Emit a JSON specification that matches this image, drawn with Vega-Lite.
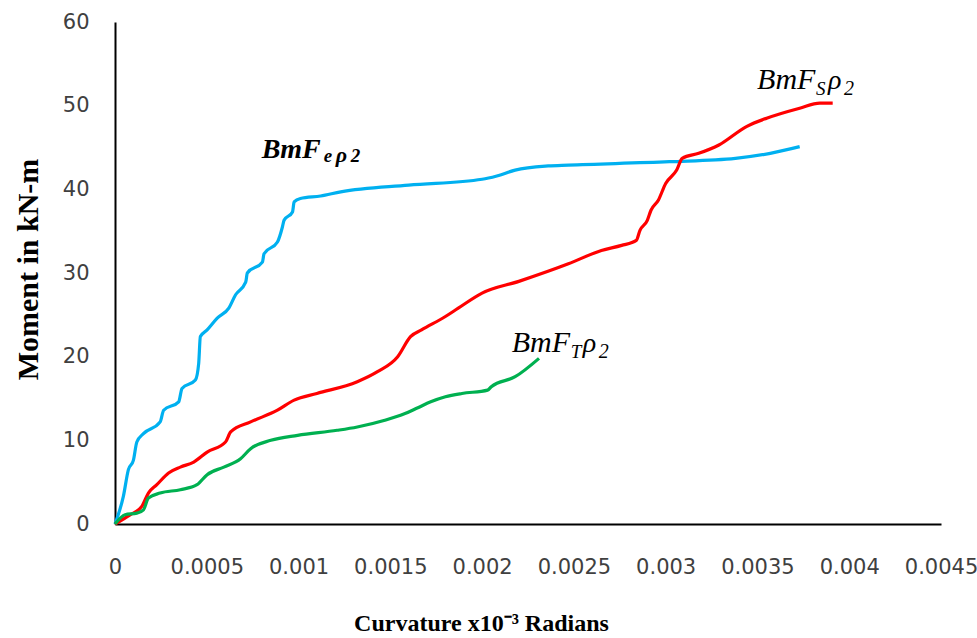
{
  "$schema": "https://vega.github.io/schema/vega-lite/v6.json",
  "width": 826,
  "height": 502,
  "autosize": {"type": "none"},
  "padding": {"left": 115, "top": 22, "right": 36, "bottom": 114},
  "background": "white",
  "config": {
    "view": {"stroke": null},
    "axis": {
      "grid": false,
      "ticks": false,
      "domainColor": "black",
      "domainWidth": 2,
      "labelFont": "DejaVu Sans",
      "labelFontSize": 21,
      "labelColor": "#404040",
      "labelOverlap": false,
      "labelFlush": false,
      "titleFont": "Liberation Serif",
      "titleFontWeight": "bold",
      "titleColor": "black"
    }
  },
  "datasets": {
    "curves": [
      {"series": "BmFeρ2", "curvature": 0, "moment": 0},
      {"series": "BmFeρ2", "curvature": 0.0000455, "moment": 3.3},
      {"series": "BmFeρ2", "curvature": 0.000073, "moment": 6.5},
      {"series": "BmFeρ2", "curvature": 0.0001, "moment": 7.6},
      {"series": "BmFeρ2", "curvature": 0.000119, "moment": 9.8},
      {"series": "BmFeρ2", "curvature": 0.000155, "moment": 10.8},
      {"series": "BmFeρ2", "curvature": 0.000246, "moment": 12.2},
      {"series": "BmFeρ2", "curvature": 0.000265, "moment": 13.6},
      {"series": "BmFeρ2", "curvature": 0.000347, "moment": 14.6},
      {"series": "BmFeρ2", "curvature": 0.000365, "moment": 16.2},
      {"series": "BmFeρ2", "curvature": 0.000438, "moment": 17.2},
      {"series": "BmFeρ2", "curvature": 0.000456, "moment": 19.2},
      {"series": "BmFeρ2", "curvature": 0.000465, "moment": 22.4},
      {"series": "BmFeρ2", "curvature": 0.000502, "moment": 23.2},
      {"series": "BmFeρ2", "curvature": 0.000557, "moment": 24.6},
      {"series": "BmFeρ2", "curvature": 0.00062, "moment": 25.8},
      {"series": "BmFeρ2", "curvature": 0.000657, "moment": 27.4},
      {"series": "BmFeρ2", "curvature": 0.000712, "moment": 28.9},
      {"series": "BmFeρ2", "curvature": 0.000721, "moment": 30.0},
      {"series": "BmFeρ2", "curvature": 0.000803, "moment": 31.3},
      {"series": "BmFeρ2", "curvature": 0.000812, "moment": 32.3},
      {"series": "BmFeρ2", "curvature": 0.000885, "moment": 33.7},
      {"series": "BmFeρ2", "curvature": 0.000912, "moment": 35.5},
      {"series": "BmFeρ2", "curvature": 0.000921, "moment": 36.3},
      {"series": "BmFeρ2", "curvature": 0.000967, "moment": 37.3},
      {"series": "BmFeρ2", "curvature": 0.000976, "moment": 38.5},
      {"series": "BmFeρ2", "curvature": 0.00101, "moment": 38.9},
      {"series": "BmFeρ2", "curvature": 0.00112, "moment": 39.2},
      {"series": "BmFeρ2", "curvature": 0.00123, "moment": 39.7},
      {"series": "BmFeρ2", "curvature": 0.0016, "moment": 40.5},
      {"series": "BmFeρ2", "curvature": 0.002, "moment": 41.2},
      {"series": "BmFeρ2", "curvature": 0.00208, "moment": 41.6},
      {"series": "BmFeρ2", "curvature": 0.00218, "moment": 42.3},
      {"series": "BmFeρ2", "curvature": 0.00236, "moment": 42.8},
      {"series": "BmFeρ2", "curvature": 0.00247, "moment": 42.9},
      {"series": "BmFeρ2", "curvature": 0.00302, "moment": 43.3},
      {"series": "BmFeρ2", "curvature": 0.00338, "moment": 43.7},
      {"series": "BmFeρ2", "curvature": 0.00357, "moment": 44.3},
      {"series": "BmFeρ2", "curvature": 0.00373, "moment": 45.1},

      {"series": "BmFSρ2", "curvature": 0, "moment": 0},
      {"series": "BmFSρ2", "curvature": 0.000082, "moment": 1.1},
      {"series": "BmFSρ2", "curvature": 0.000146, "moment": 2.1},
      {"series": "BmFSρ2", "curvature": 0.000182, "moment": 3.7},
      {"series": "BmFSρ2", "curvature": 0.000228, "moment": 4.7},
      {"series": "BmFSρ2", "curvature": 0.000292, "moment": 6.1},
      {"series": "BmFSρ2", "curvature": 0.000356, "moment": 6.8},
      {"series": "BmFSρ2", "curvature": 0.000429, "moment": 7.4},
      {"series": "BmFSρ2", "curvature": 0.000502, "moment": 8.6},
      {"series": "BmFSρ2", "curvature": 0.000602, "moment": 9.8},
      {"series": "BmFSρ2", "curvature": 0.00063, "moment": 11.0},
      {"series": "BmFSρ2", "curvature": 0.000739, "moment": 12.2},
      {"series": "BmFSρ2", "curvature": 0.000885, "moment": 13.6},
      {"series": "BmFSρ2", "curvature": 0.000976, "moment": 14.8},
      {"series": "BmFSρ2", "curvature": 0.0011, "moment": 15.6},
      {"series": "BmFSρ2", "curvature": 0.00132, "moment": 17.0},
      {"series": "BmFSρ2", "curvature": 0.00143, "moment": 18.2},
      {"series": "BmFSρ2", "curvature": 0.00154, "moment": 20.0},
      {"series": "BmFSρ2", "curvature": 0.00161, "moment": 22.4},
      {"series": "BmFSρ2", "curvature": 0.00167, "moment": 23.2},
      {"series": "BmFSρ2", "curvature": 0.0018, "moment": 24.8},
      {"series": "BmFSρ2", "curvature": 0.00187, "moment": 25.8},
      {"series": "BmFSρ2", "curvature": 0.002, "moment": 27.6},
      {"series": "BmFSρ2", "curvature": 0.0022, "moment": 29.0},
      {"series": "BmFSρ2", "curvature": 0.00247, "moment": 31.1},
      {"series": "BmFSρ2", "curvature": 0.00265, "moment": 32.7},
      {"series": "BmFSρ2", "curvature": 0.00276, "moment": 33.3},
      {"series": "BmFSρ2", "curvature": 0.00284, "moment": 33.9},
      {"series": "BmFSρ2", "curvature": 0.00286, "moment": 35.1},
      {"series": "BmFSρ2", "curvature": 0.0029, "moment": 36.3},
      {"series": "BmFSρ2", "curvature": 0.00292, "moment": 37.5},
      {"series": "BmFSρ2", "curvature": 0.00296, "moment": 38.7},
      {"series": "BmFSρ2", "curvature": 0.003, "moment": 40.7},
      {"series": "BmFSρ2", "curvature": 0.00306, "moment": 42.3},
      {"series": "BmFSρ2", "curvature": 0.00309, "moment": 43.7},
      {"series": "BmFSρ2", "curvature": 0.00318, "moment": 44.3},
      {"series": "BmFSρ2", "curvature": 0.00329, "moment": 45.3},
      {"series": "BmFSρ2", "curvature": 0.00344, "moment": 47.5},
      {"series": "BmFSρ2", "curvature": 0.00355, "moment": 48.5},
      {"series": "BmFSρ2", "curvature": 0.00373, "moment": 49.7},
      {"series": "BmFSρ2", "curvature": 0.00384, "moment": 50.3},
      {"series": "BmFSρ2", "curvature": 0.00391, "moment": 50.3},

      {"series": "BmFTρ2", "curvature": 0, "moment": 0},
      {"series": "BmFTρ2", "curvature": 0.000055, "moment": 1.1},
      {"series": "BmFTρ2", "curvature": 0.000119, "moment": 1.3},
      {"series": "BmFTρ2", "curvature": 0.000155, "moment": 1.7},
      {"series": "BmFTρ2", "curvature": 0.000182, "moment": 3.1},
      {"series": "BmFTρ2", "curvature": 0.000246, "moment": 3.7},
      {"series": "BmFTρ2", "curvature": 0.000356, "moment": 4.1},
      {"series": "BmFTρ2", "curvature": 0.000447, "moment": 4.7},
      {"series": "BmFTρ2", "curvature": 0.000502, "moment": 5.9},
      {"series": "BmFTρ2", "curvature": 0.000593, "moment": 6.8},
      {"series": "BmFTρ2", "curvature": 0.000684, "moment": 7.8},
      {"series": "BmFTρ2", "curvature": 0.000739, "moment": 9.0},
      {"series": "BmFTρ2", "curvature": 0.000849, "moment": 10.0},
      {"series": "BmFTρ2", "curvature": 0.000995, "moment": 10.6},
      {"series": "BmFTρ2", "curvature": 0.00121, "moment": 11.2},
      {"series": "BmFTρ2", "curvature": 0.00132, "moment": 11.6},
      {"series": "BmFTρ2", "curvature": 0.00147, "moment": 12.4},
      {"series": "BmFTρ2", "curvature": 0.00158, "moment": 13.2},
      {"series": "BmFTρ2", "curvature": 0.00165, "moment": 13.9},
      {"series": "BmFTρ2", "curvature": 0.00172, "moment": 14.6},
      {"series": "BmFTρ2", "curvature": 0.0018, "moment": 15.2},
      {"series": "BmFTρ2", "curvature": 0.00189, "moment": 15.6},
      {"series": "BmFTρ2", "curvature": 0.00203, "moment": 16.0},
      {"series": "BmFTρ2", "curvature": 0.00205, "moment": 16.4},
      {"series": "BmFTρ2", "curvature": 0.00218, "moment": 17.6},
      {"series": "BmFTρ2", "curvature": 0.00231, "moment": 19.8}
    ],
    "labels": [
      {"series": "e", "name": "BmF", "sub": "e", "rho": "ρ", "idx": "2", "curvature": 0.000799, "moment": 43.69},
      {"series": "S", "name": "BmF", "sub": "S", "rho": "ρ", "idx": "2", "curvature": 0.003498, "moment": 51.97},
      {"series": "T", "name": "BmF", "sub": "T", "rho": "ρ", "idx": "2", "curvature": 0.002161, "moment": 20.59}
    ]
  },
  "layer": [
    {
      "data": {"name": "curves"},
      "mark": {"type": "line", "interpolate": "monotone", "strokeWidth": 3.2},
      "encoding": {
        "x": {
          "field": "curvature",
          "type": "quantitative",
          "scale": {"domain": [0, 0.0045], "nice": false},
          "axis": {
            "values": [0, 0.0005, 0.001, 0.0015, 0.002, 0.0025, 0.003, 0.0035, 0.004, 0.0045],
            "format": "~g",
            "labelPadding": 32,
            "title": "Curvature x10⁻³ Radians",
            "titleFontSize": 24,
            "titleX": 366,
            "titleY": 106,
            "titleAnchor": null,
            "titleAlign": "center",
            "titleBaseline": "alphabetic"
          }
        },
        "y": {
          "field": "moment",
          "type": "quantitative",
          "scale": {"domain": [0, 60], "nice": false},
          "axis": {
            "values": [0, 10, 20, 30, 40, 50, 60],
            "labelPadding": 26,
            "title": "Moment in kN-m",
            "titleFontSize": 30,
            "titleAngle": -90,
            "titleX": -87,
            "titleY": 247,
            "titleAlign": "center",
            "titleBaseline": "middle"
          }
        },
        "color": {
          "field": "series",
          "type": "nominal",
          "scale": {"domain": ["BmFeρ2", "BmFSρ2", "BmFTρ2"], "range": ["#00B0F0", "#FF0000", "#00B050"]},
          "legend": null
        }
      }
    },
    {
      "data": {"name": "labels"},
      "transform": [{"filter": "datum.series !== 'e'"}],
      "mark": {"type": "text", "font": "Liberation Serif", "fontStyle": "italic", "fontSize": 30, "align": "left", "baseline": "alphabetic", "color": "black"},
      "encoding": {
        "x": {"field": "curvature", "type": "quantitative"},
        "y": {"field": "moment", "type": "quantitative"},
        "text": {"field": "name"}
      }
    },
    {
      "data": {"name": "labels"},
      "transform": [{"filter": "datum.series !== 'e'"}],
      "mark": {"type": "text", "font": "Liberation Serif", "fontStyle": "italic", "fontSize": 19, "align": "left", "baseline": "alphabetic", "dx": 59, "dy": 6, "color": "black"},
      "encoding": {
        "x": {"field": "curvature", "type": "quantitative"},
        "y": {"field": "moment", "type": "quantitative"},
        "text": {"field": "sub"}
      }
    },
    {
      "data": {"name": "labels"},
      "transform": [{"filter": "datum.series !== 'e'"}],
      "mark": {"type": "text", "font": "Liberation Serif", "fontStyle": "italic", "fontSize": 28, "align": "left", "baseline": "alphabetic", "dx": 71, "color": "black"},
      "encoding": {
        "x": {"field": "curvature", "type": "quantitative"},
        "y": {"field": "moment", "type": "quantitative"},
        "text": {"field": "rho"}
      }
    },
    {
      "data": {"name": "labels"},
      "transform": [{"filter": "datum.series !== 'e'"}],
      "mark": {"type": "text", "font": "Liberation Serif", "fontStyle": "italic", "fontSize": 20, "align": "left", "baseline": "alphabetic", "dx": 87, "dy": 6, "color": "black"},
      "encoding": {
        "x": {"field": "curvature", "type": "quantitative"},
        "y": {"field": "moment", "type": "quantitative"},
        "text": {"field": "idx"}
      }
    },
    {
      "data": {"name": "labels"},
      "transform": [{"filter": "datum.series === 'e'"}],
      "mark": {"type": "text", "font": "Liberation Serif", "fontStyle": "italic", "fontWeight": "bold", "fontSize": 28, "align": "left", "baseline": "alphabetic", "color": "black"},
      "encoding": {
        "x": {"field": "curvature", "type": "quantitative"},
        "y": {"field": "moment", "type": "quantitative"},
        "text": {"field": "name"}
      }
    },
    {
      "data": {"name": "labels"},
      "transform": [{"filter": "datum.series === 'e'"}],
      "mark": {"type": "text", "font": "Liberation Serif", "fontStyle": "italic", "fontWeight": "bold", "fontSize": 19, "align": "left", "baseline": "alphabetic", "dx": 62, "dy": 4, "color": "black"},
      "encoding": {
        "x": {"field": "curvature", "type": "quantitative"},
        "y": {"field": "moment", "type": "quantitative"},
        "text": {"field": "sub"}
      }
    },
    {
      "data": {"name": "labels"},
      "transform": [{"filter": "datum.series === 'e'"}],
      "mark": {"type": "text", "font": "Liberation Serif", "fontStyle": "italic", "fontWeight": "bold", "fontSize": 22, "align": "left", "baseline": "alphabetic", "dx": 74, "dy": 4, "color": "black"},
      "encoding": {
        "x": {"field": "curvature", "type": "quantitative"},
        "y": {"field": "moment", "type": "quantitative"},
        "text": {"field": "rho"}
      }
    },
    {
      "data": {"name": "labels"},
      "transform": [{"filter": "datum.series === 'e'"}],
      "mark": {"type": "text", "font": "Liberation Serif", "fontStyle": "italic", "fontWeight": "bold", "fontSize": 19, "align": "left", "baseline": "alphabetic", "dx": 89, "dy": 4, "color": "black"},
      "encoding": {
        "x": {"field": "curvature", "type": "quantitative"},
        "y": {"field": "moment", "type": "quantitative"},
        "text": {"field": "idx"}
      }
    }
  ]
}
